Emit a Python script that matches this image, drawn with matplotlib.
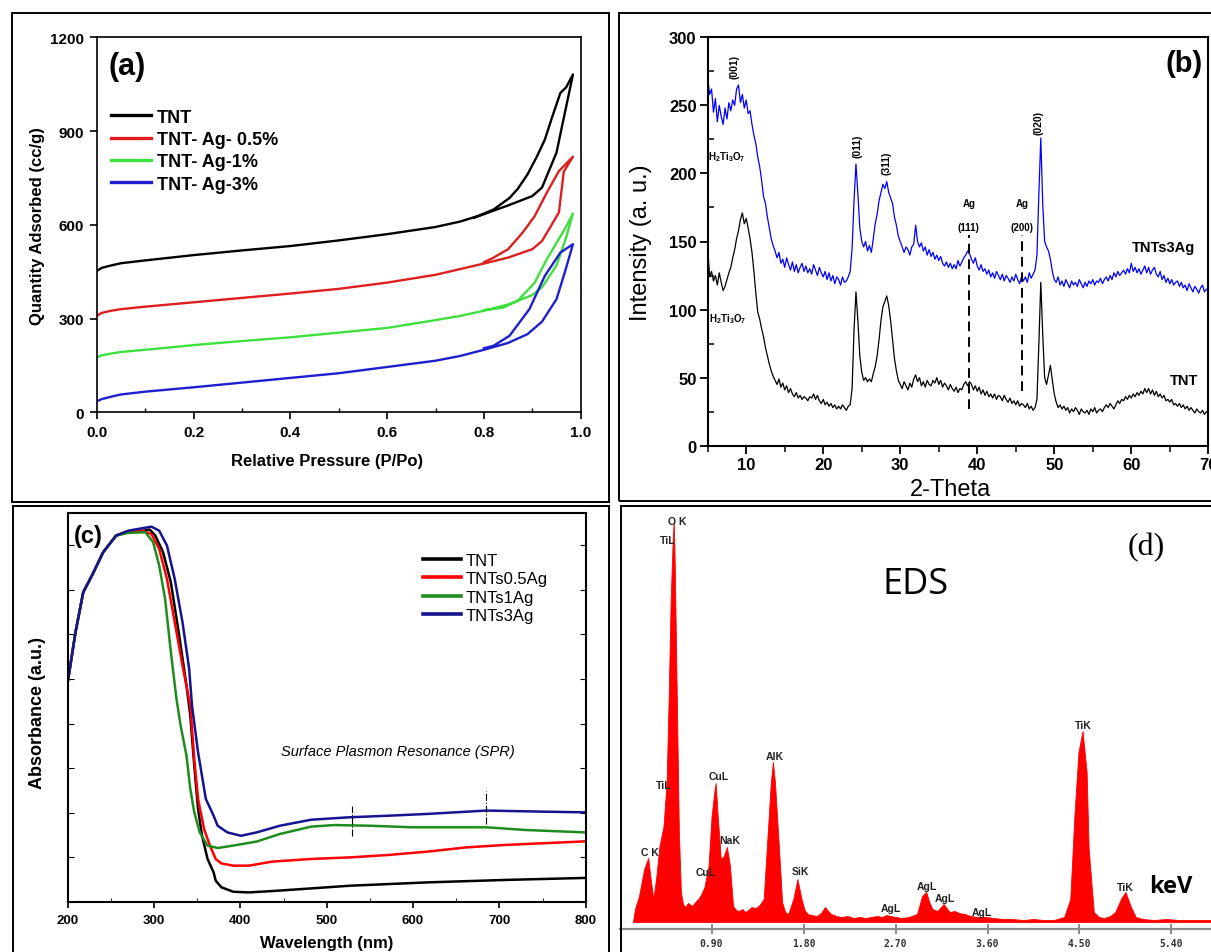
import matplotlib
matplotlib.use('Agg')
import matplotlib.pyplot as plt
import numpy as np
from matplotlib.patches import Rectangle
from matplotlib.ticker import MultipleLocator, FormatStrFormatter

plt.rcParams['font.family'] = ['Liberation Sans', 'DejaVu Sans']
plt.rcParams['mathtext.default'] = 'regular'

W, H = 1211, 953

# ---------------- (a) N2 isotherms: adsorption branch, then desorption back
bet_labels = ['TNT', 'TNT- Ag- 0.5%', 'TNT- Ag-1%', 'TNT- Ag-3%']
bet_colors = ['#000000', '#dd1f1f', '#3ee03e', '#1f1fd0']

tnt_p = [0.0, 0.01, 0.03, 0.05, 0.1, 0.2, 0.3, 0.4, 0.5, 0.6, 0.7, 0.75, 0.8, 0.85, 0.88, 0.9, 0.92, 0.95, 0.96, 0.975, 0.984,
         0.97, 0.958, 0.94, 0.926, 0.91, 0.89, 0.87, 0.853, 0.82, 0.8, 0.78]
tnt_v = [452, 462, 470, 477, 486, 503, 518, 532, 550, 570, 593, 610, 634, 662, 680, 692, 719, 831, 905, 1015, 1081,
         1040, 1022, 940, 873, 820, 761, 715, 686, 649, 636, 622]
red_p = [0.0, 0.01, 0.03, 0.05, 0.1, 0.2, 0.3, 0.4, 0.5, 0.6, 0.7, 0.75, 0.8, 0.85, 0.9, 0.92, 0.94, 0.955, 0.965, 0.984,
         0.955, 0.93, 0.905, 0.88, 0.85, 0.82, 0.8]
red_v = [308, 318, 325, 330, 338, 352, 366, 380, 395, 415, 440, 458, 476, 495, 522, 548, 600, 640, 770, 818,
         772, 703, 628, 575, 522, 495, 480]
green_p = [0.0, 0.01, 0.03, 0.05, 0.1, 0.2, 0.3, 0.4, 0.5, 0.6, 0.7, 0.75, 0.8, 0.85, 0.9, 0.92, 0.95, 0.97, 0.984,
           0.967, 0.93, 0.905, 0.87, 0.84, 0.8]
green_v = [175, 182, 188, 193, 200, 215, 228, 240, 255, 270, 295, 308, 325, 345, 375, 400, 470, 560, 636,
           586, 490, 415, 357, 335, 327]
blue_p = [0.0, 0.01, 0.03, 0.05, 0.1, 0.2, 0.3, 0.4, 0.5, 0.6, 0.7, 0.75, 0.8, 0.85, 0.89, 0.92, 0.95, 0.967, 0.984,
          0.958, 0.926, 0.894, 0.853, 0.82, 0.8]
blue_v = [35, 42, 50, 57, 66, 80, 95, 110, 125, 145, 165, 180, 200, 222, 250, 290, 362, 447, 538,
          511, 437, 330, 245, 213, 205]

# ---------------- (b) XRD, 0.25 deg steps from 5 to 70
two_theta = np.linspace(5, 70, 261)
xrd_ag = [270, 258, 262, 245, 255, 238, 250, 242, 236, 248, 240, 252, 246, 254, 250, 262,
          265, 252, 258, 248, 254, 244, 246, 236, 228, 222, 212, 205, 195, 183, 178, 168,
          160, 152, 147, 143, 138, 142, 134, 137, 131, 138, 133, 129, 135, 128, 133, 127,
          131, 134, 128, 132, 127, 130, 126, 133, 129, 125, 131, 127, 124, 128, 122, 127,
          121, 125, 119, 124, 122, 118, 124, 120, 121, 124, 128, 145, 180, 207, 185, 160,
          150, 146, 150, 143, 147, 142, 152, 163, 170, 180, 186, 192, 189, 194, 186, 182,
          178, 168, 162, 154, 150, 146, 142, 146, 144, 140, 146, 148, 162, 150, 146, 149,
          143, 146, 140, 144, 139, 142, 137, 140, 136, 139, 134, 132, 135, 131, 134, 130,
          133, 130, 136, 132, 135, 138, 140, 143, 141, 137, 134, 138, 132, 129, 133, 128,
          130, 126, 129, 124, 127, 123, 128, 125, 122, 126, 121, 125, 123, 120, 124, 121,
          126, 122, 119, 124, 121, 124, 120, 127, 123, 126, 129, 140, 185, 226, 178, 150,
          146, 143, 137, 128, 122, 120, 124, 118, 121, 117, 122, 119, 116, 121, 118, 120,
          117, 122, 119, 116, 120, 117, 121, 119, 122, 118, 121, 120, 123, 119, 122, 124,
          121, 125, 122, 127, 124, 128, 125, 127, 129, 126, 130, 127, 134, 128, 131, 127,
          130, 126, 129, 132, 127, 131, 126, 129, 131, 126, 124, 128, 122, 125, 120, 123,
          119, 122, 118, 120, 121, 117, 120, 116, 118, 114, 119, 116, 113, 117, 115, 112,
          116, 118, 113, 115, 114]
xrd_tnt = [145, 124, 128, 121, 125, 118, 127, 120, 114, 117, 122, 127, 131, 138, 144, 152,
           158, 166, 171, 163, 167, 160, 152, 142, 128, 112, 98, 93, 86, 80, 72, 66,
           60, 55, 51, 48, 45, 49, 43, 46, 41, 44, 39, 42, 38, 36, 39, 35,
           37, 34, 36, 35, 33, 36, 35, 38, 34, 37, 33, 31, 34, 30, 32, 29,
           31, 28, 30, 27, 29, 27, 30, 28, 26, 29, 30, 42, 85, 113, 92, 66,
           54, 48, 50, 47, 49, 47, 53, 58, 66, 78, 92, 102, 106, 110, 103, 92,
           78, 64, 55, 48, 45, 42, 47, 44, 41, 46, 43, 49, 52, 47, 50, 44,
           47, 43, 48, 45, 44, 48, 46, 50, 45, 48, 43, 46, 44, 41, 45, 42,
           40, 43, 39, 42, 41, 45, 47, 44, 47, 45, 41, 44, 40, 43, 38, 41,
           37, 40, 36, 38, 35, 38, 34, 37, 36, 33, 37, 34, 32, 35, 31, 33,
           30, 33, 29, 31, 30, 28, 31, 27, 29, 26, 28, 34, 75, 120, 82, 50,
           45, 52, 59, 48, 38, 32, 28, 30, 27, 29, 26, 28, 24, 27, 25, 28,
           26, 23, 27, 25, 24, 26, 23, 27, 25, 28, 24, 26, 27, 25, 28, 30,
           28, 31, 29, 27, 30, 33, 31, 34, 33, 36, 34, 37, 35, 38, 36, 39,
           37, 40, 38, 42, 39, 42, 38, 41, 37, 40, 36, 38, 35, 37, 33, 34,
           32, 34, 30, 31, 29, 31, 28, 30, 27, 29, 26, 28, 26, 24, 27, 25,
           24, 26, 23, 25, 24]
hkl_labels = ['(001)', '(011)', '(311)', '(020)']
hkl_pos = [(8.5, 279), (24.5, 221), (28.2, 208), (47.9, 238)]
ag_theta = [38.9, 45.8]
ag_hkl = ['(111)', '(200)']
ag_low = [27, 40]
ag_high = [155, 155]

# ---------------- (c) UV-vis absorbance
uv_labels = ['TNT', 'TNTs0.5Ag', 'TNTs1Ag', 'TNTs3Ag']
uv_colors = ['#000000', '#ff0000', '#1e8c1e', '#14148f']
uv_tnt_nm = [200, 209, 218, 229, 241, 256, 270, 288, 295, 301.5, 310.5, 319.5, 328.6, 337.6, 342, 346.6, 351, 355.6,
             362, 369, 371.4, 378, 391.7, 409.8, 436.8, 482, 527, 617, 707.5, 800]
uv_tnt = [0.985, 1.209, 1.389, 1.471, 1.568, 1.643, 1.661, 1.665, 1.670, 1.643, 1.568, 1.433, 1.209, 0.970, 0.836,
          0.611, 0.417, 0.297, 0.193, 0.133, 0.096, 0.066, 0.046, 0.043, 0.049, 0.061, 0.073, 0.088, 0.099, 0.108]
uv_ag05_nm = [200, 209, 218, 229, 241, 256, 270, 285.7, 297, 306, 315, 324, 333, 342, 346.6, 351, 358, 364.7, 371.4,
              378, 391.7, 409.8, 436.8, 482, 527, 572, 617, 662, 707.5, 800]
uv_ag05 = [0.985, 1.209, 1.389, 1.471, 1.568, 1.643, 1.661, 1.665, 1.650, 1.583, 1.448, 1.254, 1.060, 0.880, 0.641,
           0.462, 0.327, 0.253, 0.193, 0.173, 0.163, 0.163, 0.181, 0.193, 0.200, 0.211, 0.226, 0.245, 0.256, 0.272]
uv_ag1_nm = [200, 209, 218, 229, 241, 256, 270, 290, 299, 306, 312.8, 319.5, 326, 330.8, 337.6, 342, 346.6, 353, 362,
             373.7, 391.7, 418.8, 445.8, 482, 509, 550, 599, 685, 730, 800]
uv_ag1 = [0.985, 1.209, 1.389, 1.471, 1.568, 1.643, 1.655, 1.658, 1.613, 1.508, 1.359, 1.120, 0.910, 0.791, 0.656,
          0.507, 0.402, 0.312, 0.253, 0.242, 0.253, 0.271, 0.305, 0.338, 0.345, 0.342, 0.335, 0.335, 0.323, 0.312]
uv_ag3_nm = [200, 209, 218, 229, 241, 256, 270, 297, 306, 315, 324, 333, 340.7, 344, 351, 360, 369, 373.7, 385,
             400.7, 418.8, 445.8, 482, 527, 572, 617, 685, 752.6, 800]
uv_ag3 = [0.985, 1.209, 1.389, 1.471, 1.568, 1.643, 1.665, 1.683, 1.665, 1.598, 1.448, 1.254, 1.045, 0.880, 0.671,
          0.462, 0.387, 0.342, 0.312, 0.297, 0.312, 0.342, 0.369, 0.380, 0.387, 0.395, 0.410, 0.405, 0.402]
spr_nm = [529, 685]
spr_low = [0.294, 0.350]
spr_high = [0.432, 0.499]

# ---------------- (d) EDS spectrum
eds_kev = [0.13, 0.15, 0.19, 0.24, 0.28, 0.30, 0.33, 0.36, 0.39, 0.43,
           0.46, 0.48, 0.50, 0.52, 0.53, 0.54, 0.56, 0.58, 0.60, 0.62,
           0.64, 0.67, 0.71, 0.74, 0.77, 0.80, 0.83, 0.87, 0.90, 0.93,
           0.94, 0.96, 0.99, 1.02, 1.05, 1.08, 1.11, 1.14, 1.17, 1.20,
           1.23, 1.26, 1.29, 1.33, 1.37, 1.41, 1.45, 1.48, 1.50, 1.52,
           1.56, 1.59, 1.62, 1.65, 1.70, 1.74, 1.78, 1.81, 1.84, 1.88,
           1.93, 1.97, 2.01, 2.04, 2.07, 2.12, 2.17, 2.23, 2.29, 2.35,
           2.41, 2.46, 2.52, 2.57, 2.61, 2.65, 2.70, 2.76, 2.83, 2.91,
           2.96, 3.00, 3.03, 3.06, 3.11, 3.17, 3.20, 3.23, 3.28, 3.32,
           3.38, 3.43, 3.50, 3.58, 3.66, 3.75, 3.84, 3.95, 4.05, 4.15,
           4.25, 4.35, 4.41, 4.45, 4.49, 4.53, 4.57, 4.59, 4.64, 4.69,
           4.74, 4.80, 4.85, 4.91, 4.95, 5.00, 5.05, 5.12, 5.23, 5.35,
           5.47, 5.60, 5.79]
eds_counts = [0, 13, 26, 53, 64, 46, 23, 46, 76, 96,
              140, 223, 323, 383, 401, 356, 223, 90, 30, 18,
              15, 19, 16, 20, 23, 28, 35, 56, 106, 133,
              139, 106, 63, 66, 75, 56, 16, 12, 11, 13,
              10, 12, 15, 14, 17, 23, 90, 140, 160, 140,
              73, 20, 10, 8, 23, 43, 23, 12, 8, 7,
              6, 9, 15, 11, 8, 6, 5, 6, 4, 5,
              4, 5, 6, 5, 7, 6, 5, 4, 5, 8,
              26, 30, 20, 13, 11, 18, 14, 10, 11, 9,
              8, 6, 5, 5, 4, 3, 3, 2, 3, 2,
              2, 5, 23, 106, 170, 191, 150, 73, 10, 5,
              4, 6, 10, 24, 30, 16, 5, 3, 2, 3,
              2, 2, 2]
eds_peaks = ['O K', 'TiL', 'TiL', 'CuL', 'C K', 'NaK', 'CuL', 'AlK', 'SiK',
             'AgL', 'AgL', 'AgL', 'AgL', 'TiK', 'TiK']
eds_peak_pos = [(0.562, 401), (0.474, 382), (0.431, 137), (0.968, 146), (0.297, 70), (1.080, 82),
                (0.843, 50), (1.519, 166), (1.770, 51), (2.656, 14), (3.004, 36), (3.180, 24),
                (3.544, 10), (4.538, 197), (4.950, 35)]


def px_rect(x0, y0, x1, y1):
    return [x0 / W, 1 - y1 / H, (x1 - x0) / W, (y1 - y0) / H]


def px_text(fig, x, y, s, **kw):
    fig.text(x / W, 1 - y / H, s, ha='center', va='center', **kw)


fig = plt.figure(figsize=(W / 100, H / 100), dpi=100)

# frames around the four panels
for x0, y0, x1, y1 in [(11.7, 14, 609, 502.7), (618.5, 14.3, 1230, 501.7),
                       (13.3, 507, 609.3, 975), (621, 507, 1230, 975)]:
    r = px_rect(x0, y0, x1, y1)
    fig.patches.append(Rectangle((r[0], r[1]), r[2], r[3], transform=fig.transFigure,
                                 fill=False, ec='black', lw=1.4))

# (a)
ax = fig.add_axes(px_rect(96.7, 38.3, 580.7, 413.3))
for p, v, c, lab in zip([tnt_p, red_p, green_p, blue_p], [tnt_v, red_v, green_v, blue_v], bet_colors, bet_labels):
    ax.plot(p, v, color=c, lw=1.7, label=lab)
ax.set_xlim(0, 1)
ax.set_ylim(0, 1200)
ax.xaxis.set_major_locator(MultipleLocator(0.2))
ax.xaxis.set_minor_locator(MultipleLocator(0.1))
ax.xaxis.set_major_formatter(FormatStrFormatter('%.1f'))
ax.yaxis.set_major_locator(MultipleLocator(300))
ax.tick_params(which='major', direction='out', length=5, width=1.2, labelsize=11, pad=4)
ax.tick_params(axis='x', which='minor', direction='in', length=3, width=1.0)
for s in ax.spines.values():
    s.set_linewidth(1.2)
plt.setp(ax.get_xticklabels() + ax.get_yticklabels(), fontweight='bold')
ax.set_xlabel('Relative Pressure (P/Po)', fontsize=12, fontweight='bold', va='center')
ax.xaxis.set_label_coords(0.476, -0.129)
ax.set_ylabel('Quantity Adsorbed (cc/g)', fontsize=12, fontweight='bold', va='center')
ax.yaxis.set_label_coords(-0.123, 0.5)
leg = ax.legend(loc='upper left', bbox_to_anchor=(0.0295, 0.81), frameon=False,
                prop={'weight': 'bold', 'size': 13}, handlelength=2.2, handletextpad=0.35,
                labelspacing=0.3, borderpad=0, borderaxespad=0)
for ln in leg.get_lines():
    ln.set_linewidth(2.4)
px_text(fig, 127, 67, '(a)', fontsize=22, fontweight='bold')

# (b)
ax = fig.add_axes(px_rect(707.7, 38.3, 1208.3, 446.7))
ax.plot(two_theta, xrd_tnt, color='black', lw=0.9)
ax.plot(two_theta, xrd_ag, color='#0000ff', lw=0.9)
ax.vlines(ag_theta, ag_low, ag_high, colors='black', linestyles=(0, (5, 3)), lw=1.4)
ax.set_xlim(5, 70)
ax.set_ylim(0, 300)
ax.xaxis.set_major_locator(MultipleLocator(10))
ax.xaxis.set_minor_locator(MultipleLocator(5))
ax.yaxis.set_major_locator(MultipleLocator(50))
ax.yaxis.set_minor_locator(MultipleLocator(25))
ax.tick_params(which='major', direction='out', length=6, width=1.3, labelsize=12, pad=2)
ax.tick_params(axis='x', which='minor', direction='out', length=4, width=1.1)
ax.tick_params(axis='y', which='minor', direction='in', length=4, width=1.1)
for s in ax.spines.values():
    s.set_linewidth(1.5)
plt.setp(ax.get_xticklabels() + ax.get_yticklabels(), fontweight='bold',
         family=['Liberation Sans Narrow', 'Liberation Sans'])
ax.set_xlabel('2-Theta', fontsize=17, va='center')
ax.xaxis.set_label_coords(0.486, -0.106)
ax.set_ylabel('Intensity (a. u.)', fontsize=17, va='center')
ax.yaxis.set_label_coords(-0.134, 0.499)
for lab, (t, y) in zip(hkl_labels, hkl_pos):
    ax.text(t, y, lab, rotation=90, fontsize=7.5, fontweight='bold', ha='center', va='center')
for t, lab in zip(ag_theta, ag_hkl):
    ax.text(t, 178, 'Ag', fontsize=7, fontweight='bold', ha='center', va='center')
    ax.text(t, 161, lab, fontsize=7, fontweight='bold', ha='center', va='center')
ax.text(7.5, 213, r'H$_2$Ti$_3$O$_7$', fontsize=7, fontweight='bold', ha='center', va='center')
ax.text(7.6, 94, r'H$_2$Ti$_3$O$_7$', fontsize=7, fontweight='bold', ha='center', va='center')
ax.text(64.2, 146, 'TNTs3Ag', fontsize=10.5, fontweight='bold', ha='center', va='center')
ax.text(66.9, 48, 'TNT', fontsize=10.5, fontweight='bold', ha='center', va='center')
px_text(fig, 1184, 64, '(b)', fontsize=21, fontweight='bold')

# (c)
ax = fig.add_axes(px_rect(67.7, 514.3, 585.7, 903))
for nm, a, c, lab in zip([uv_tnt_nm, uv_ag05_nm, uv_ag1_nm, uv_ag3_nm], [uv_tnt, uv_ag05, uv_ag1, uv_ag3],
                         uv_colors, uv_labels):
    ax.plot(nm, a, color=c, lw=1.8, label=lab)
ax.vlines(spr_nm, spr_low, spr_high, colors='black', linestyles='-.', lw=0.8)
ax.set_xlim(200, 800)
ax.set_ylim(0, 1.743)
ax.xaxis.set_major_locator(MultipleLocator(100))
ax.xaxis.set_minor_locator(MultipleLocator(50))
ax.yaxis.set_major_locator(MultipleLocator(0.2))
ax.tick_params(axis='y', which='major', direction='in', length=4, left=True, right=True, labelleft=False)
ax.tick_params(axis='x', which='major', direction='out', length=4, width=1.2, labelsize=9.5, pad=5)
ax.tick_params(axis='x', which='minor', direction='in', length=3)
for s in ax.spines.values():
    s.set_linewidth(1.5)
plt.setp(ax.get_xticklabels(), fontweight='bold')
ax.set_xlabel('Wavelength (nm)', fontsize=12, fontweight='bold', va='center')
ax.xaxis.set_label_coords(0.5, -0.103)
ax.set_ylabel('Absorbance (a.u.)', fontsize=13, fontweight='bold', va='center')
ax.yaxis.set_label_coords(-0.059, 0.489)
ax.text(582, 0.678, 'Surface Plasmon Resonance (SPR)', style='italic', fontsize=10.5, ha='center', va='center')
leg = ax.legend(loc='upper left', bbox_to_anchor=(0.686, 0.898), frameon=False, fontsize=12,
                handlelength=2.3, handletextpad=0.25, labelspacing=0.2, borderpad=0, borderaxespad=0)
for ln in leg.get_lines():
    ln.set_linewidth(2.6)
px_text(fig, 88.5, 537, '(c)', fontsize=17, fontweight='bold')

# (d)
ax = fig.add_axes(px_rect(619.6, 510, 1211, 930))
ax.fill_between(eds_kev, 0, eds_counts, color='#ff0000', lw=0.6)
ax.set_xlim(0, 5.787)
ax.set_ylim(-7, 413)
for side in ['top', 'left', 'right']:
    ax.spines[side].set_visible(False)
ax.spines['bottom'].set_color('#8c8c8c')
ax.spines['bottom'].set_linewidth(1.6)
ax.set_xticks(np.arange(1, 7) * 0.9)
ax.xaxis.set_major_formatter(FormatStrFormatter('%.2f'))
ax.set_yticks([])
ax.tick_params(axis='x', direction='inout', length=7, width=1.2, color='#777777',
               labelsize=7, pad=3, labelcolor='#333333')
plt.setp(ax.get_xticklabels(), fontweight='bold', family='DejaVu Sans Mono')
for lab, (k, c) in zip(eds_peaks, eds_peak_pos):
    ax.text(k, c, lab, fontsize=7.5, fontweight='bold', ha='center', va='center', color='#222222')
px_text(fig, 915.5, 585, 'EDS', fontsize=26, family=['Open Sans', 'DejaVu Sans'])
px_text(fig, 1146.6, 548, '(d)', fontsize=23, family=['Liberation Serif', 'DejaVu Serif'])
px_text(fig, 1171, 887, 'keV', fontsize=17, fontweight='bold', family=['Open Sans', 'DejaVu Sans'])

fig.savefig('out.png', dpi=100)
